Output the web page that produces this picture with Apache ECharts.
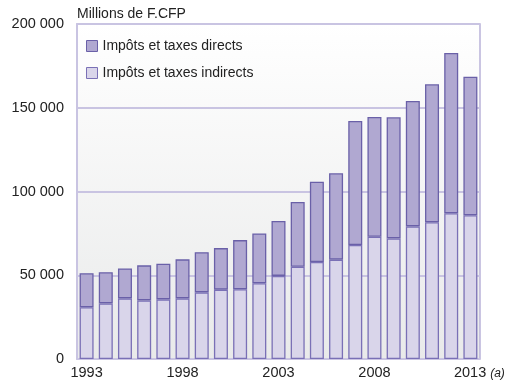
<!DOCTYPE html>
<html><head><meta charset="utf-8">
<script src="https://cdn.jsdelivr.net/npm/echarts@6/dist/echarts.min.js"></script>
<style>html,body{margin:0;padding:0;background:#fff}#c{width:513px;height:384px}</style>
</head><body><div id="c"></div>
<script>
var years = ['1993','1994','1995','1996','1997','1998','1999','2000','2001','2002','2003','2004','2005','2006','2007','2008','2009','2010','2011','2012','2013'];
var indirects = [30900,33200,36200,35000,35600,36200,39800,41400,41600,45200,49600,55100,57900,59300,68100,73000,72000,79200,81600,87000,85800];
var totals = [51200,51800,54100,55900,56900,59500,63800,66200,71000,75000,82400,93700,105800,110900,142100,144500,144300,154000,164000,182700,168500];
var directs = totals.map(function(t,i){return t - indirects[i];});
var font = '"Liberation Sans Narrow","Liberation Sans",Arial,sans-serif';
var chart = echarts.init(document.getElementById('c'));
chart.setOption({
  animation:false,
  grid:{left:77,right:33,top:24,bottom:25,show:true,borderColor:'#b9b2d9',borderWidth:1.5,
    backgroundColor:{type:'linear',x:0,y:0,x2:0,y2:1,colorStops:[{offset:0,color:'#ffffff'},{offset:1,color:'#e9eaea'}]}},
  legend:{left:81,top:34,orient:'vertical',icon:'rect',itemWidth:11,itemHeight:11,itemGap:13,itemStyle:{borderWidth:1},
    textStyle:{fontFamily:font,fontSize:14,color:'#222'},
    data:['Impôts et taxes directs','Impôts et taxes indirects']},
  xAxis:{type:'category',data:years,
    axisLine:{show:false},axisTick:{show:false},
    axisLabel:{interval:4,margin:6,fontFamily:font,fontSize:14.5,color:'#222',
      formatter:function(v){return v==='2013'?'{p|}2013{a|(a)}':v;},
      rich:{p:{width:18},a:{fontFamily:font,fontStyle:'italic',fontSize:12,color:'#222',padding:[3,0,0,4]}}}},
  yAxis:{type:'value',min:0,max:200000,interval:50000,
    name:'Millions de F.CFP',nameLocation:'end',nameGap:3,
    nameTextStyle:{fontFamily:font,fontSize:14,color:'#222',align:'left',verticalAlign:'bottom'},
    axisLine:{show:true,lineStyle:{color:'#c9c4e2',width:2}},axisTick:{show:false},
    splitLine:{lineStyle:{color:'#c9c4e2',width:2}},
    axisLabel:{margin:13,fontFamily:font,fontSize:14.5,color:'#222',
      formatter:function(v){return String(v).replace(/\B(?=(\d{3})+(?!\d))/g,' ');}}},
  series:[
    {name:'Impôts et taxes indirects',type:'bar',stack:'t',barWidth:14,data:indirects,
     itemStyle:{color:'#d9d5ea',borderColor:'#7a70b6',borderWidth:1.3}},
    {name:'Impôts et taxes directs',type:'bar',stack:'t',barWidth:14,data:directs,
     itemStyle:{color:'#b0a8d1',borderColor:'#6a60a8',borderWidth:1.3}}
  ]
});
</script></body></html>
